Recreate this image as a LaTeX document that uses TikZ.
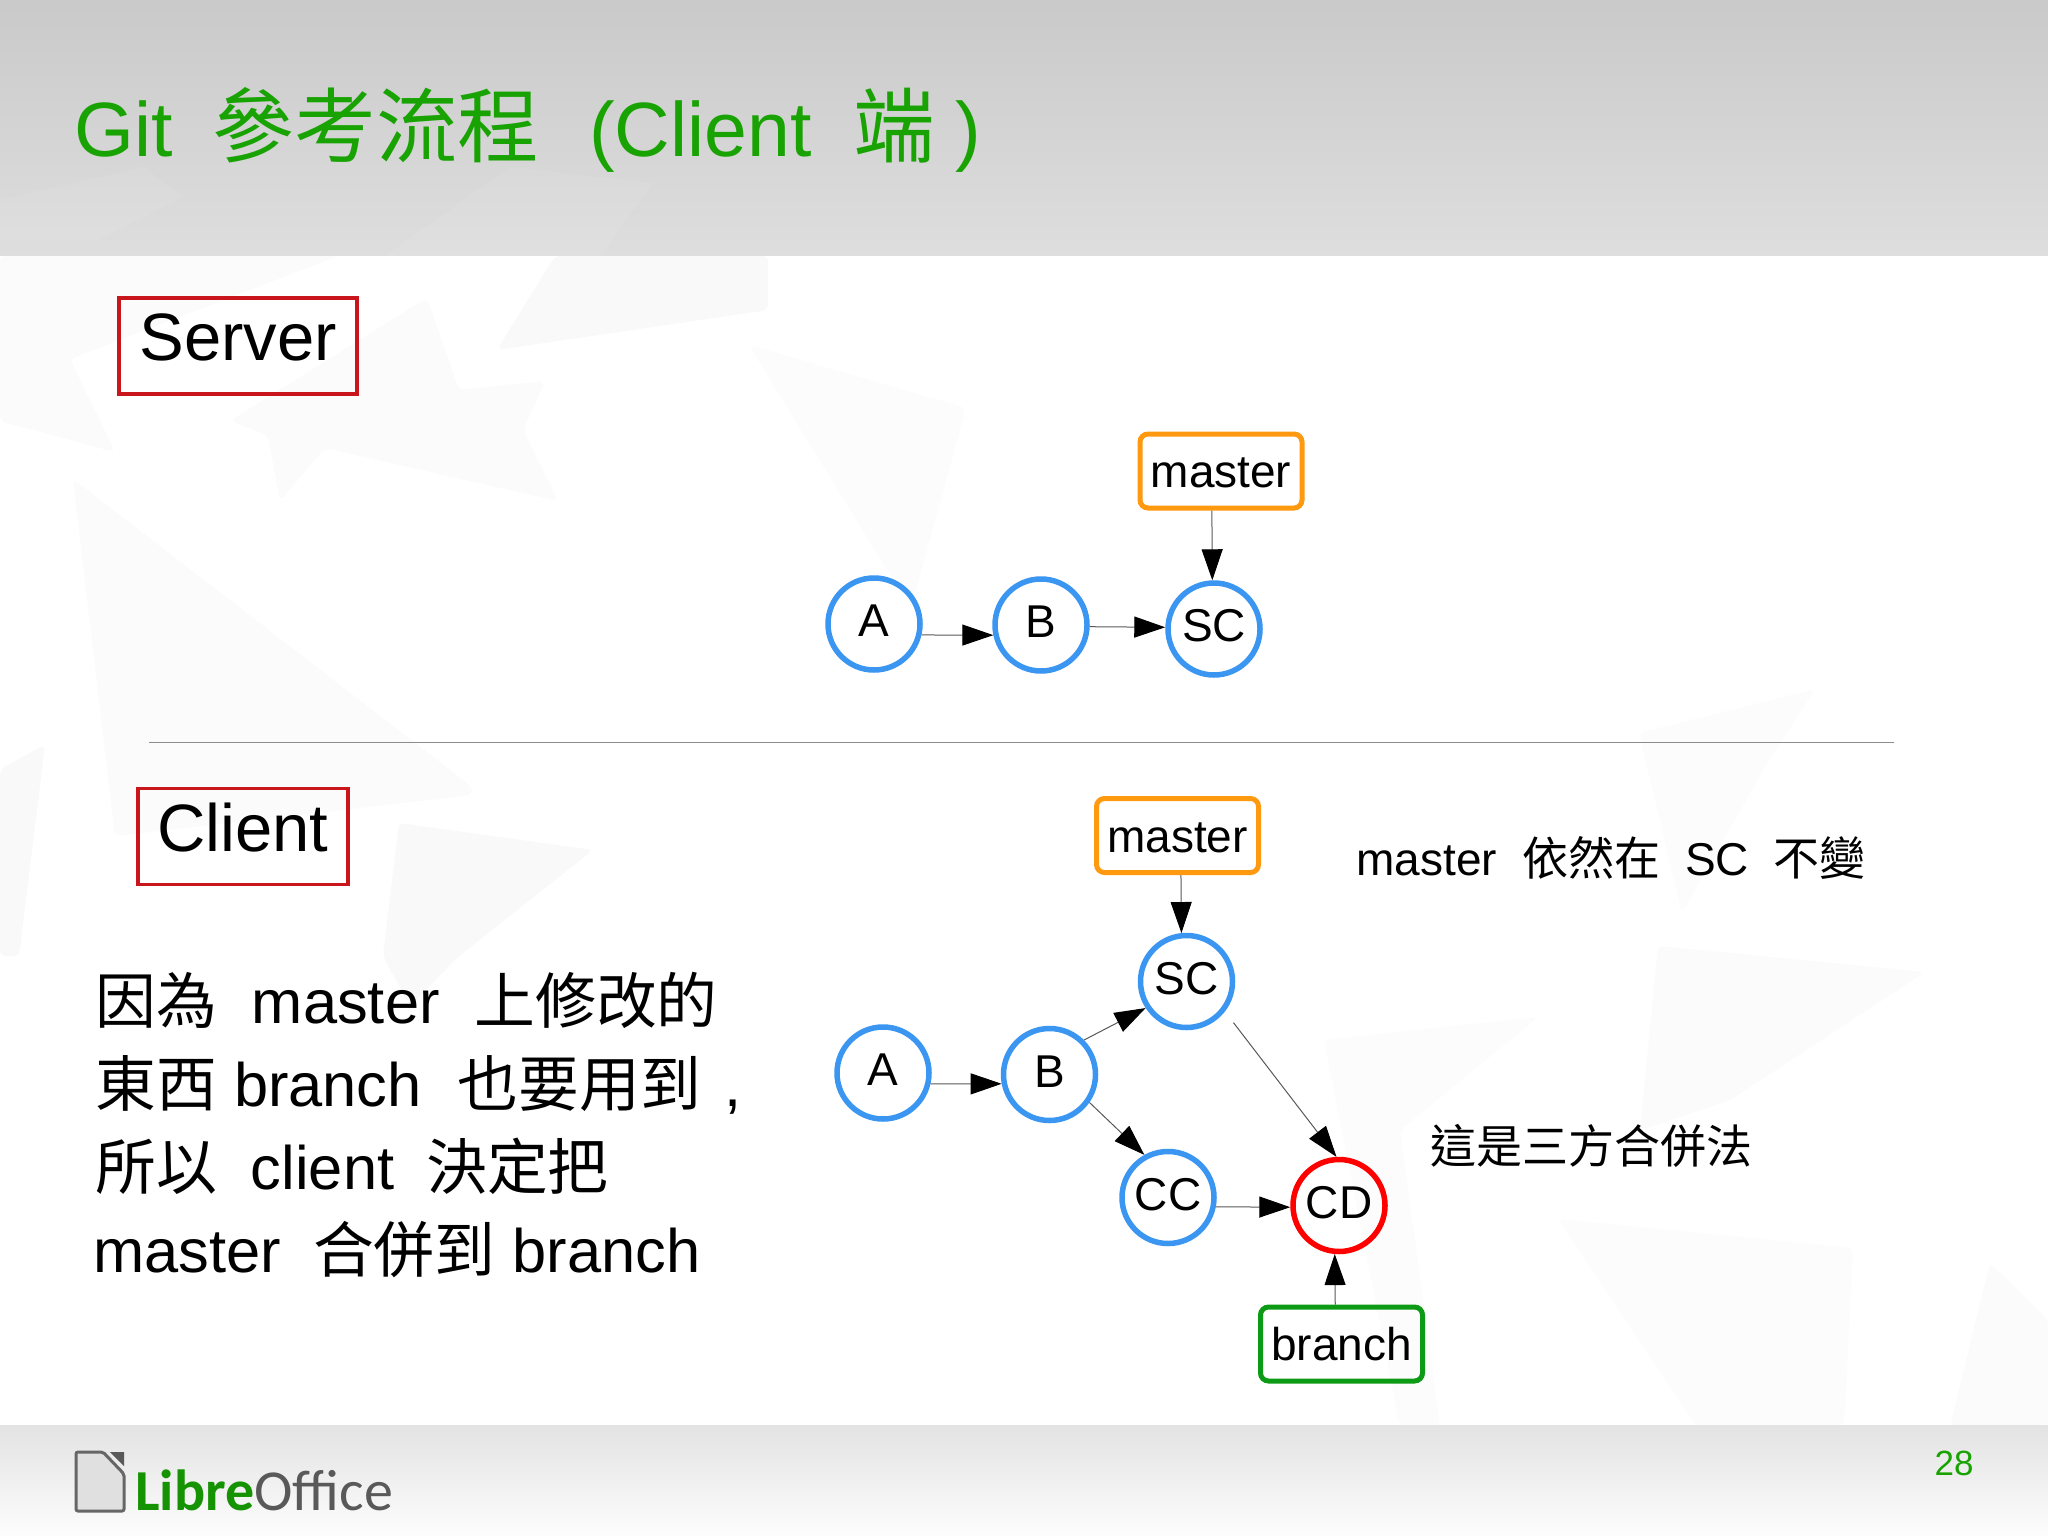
\documentclass[tikz,border=0pt]{standalone}
\usepackage{fontspec}
\usepackage{xcolor}
\usepackage{tikz}
\usetikzlibrary{arrows.meta}
\setmainfont{Liberation Sans}
\newfontfamily\cjk{Noto Sans CJK TC}
\newfontfamily\cjktitle[Scale=1.06]{Noto Sans CJK TC}
\newfontfamily\cjkbody[Scale=0.99]{Noto Sans CJK TC}
\newfontfamily\logofont{Carlito}
\definecolor{titlegreen}{HTML}{18A303}
\definecolor{commitblue}{HTML}{3B96F2}
\definecolor{masterorange}{HTML}{FF9A10}
\definecolor{branchgreen}{HTML}{0D9A14}
\definecolor{boxred}{HTML}{C9161C}

\begin{document}
\begin{tikzpicture}[x=0.5pt, y=-0.5pt,
  commit/.style={draw=commitblue, circle, line width=2.75pt, minimum size=46pt,
    inner sep=0pt, font=\fontsize{23}{27}\selectfont, text height=12.5pt, text depth=0pt},
  ref/.style={draw=masterorange, rounded corners=4pt, line width=2.5pt, inner sep=0pt,
    minimum width=81pt, minimum height=37pt, font=\fontsize{23}{27}\selectfont,
    text height=16.5pt, text depth=0pt},
  sidebox/.style={draw=boxred, line width=1.75pt, inner sep=0pt, minimum height=48pt,
    font=\fontsize{33.5}{40}\selectfont, text height=14.5pt, text depth=0pt},
  link/.style={draw=black!65, line width=0.5pt,
    -{Triangle[length=15.5pt, width=10.5pt, color=black]}},
  note/.style={anchor=base west, inner sep=0pt, font=\fontsize{23}{28}\selectfont},
  facet/.style={fill=black!2.5, rounded corners=3pt},
  lightfacet/.style={fill=black!1.6, rounded corners=3pt},
  headfacet/.style={fill=white, fill opacity=0.07}
]
\useasboundingbox (0,0) rectangle (2048,1535);

% Slide background
\fill[white] (0,0) rectangle (2048,1535);
\fill[lightfacet] (0,256) -- (338,256) -- (70,359) -- (115,452) -- (0,421) -- cycle;
\fill[lightfacet] (73,479) -- (472,787) -- (472,795) -- (115,836) -- cycle;
\fill[facet] (555,256) -- (768,256) -- (768,310) -- (497,350) -- cycle;
\fill[lightfacet] (268,435) -- (280,501) -- (325,448) -- (558,501) -- (523,430) -- (545,381) -- (459,390) -- (427,298) -- (230,421) -- cycle;
\fill[facet] (399,823) -- (593,850) -- (459,956) -- (410,1006) -- (383,956) -- cycle;
\fill[facet] (45,745) -- (19,956) -- (0,956) -- (0,769) -- cycle;
\fill[black!1.2, rounded corners=3pt] (749,345) -- (966,408) -- (912,604) -- (886,568) -- cycle;
\fill[black!1, rounded corners=3pt] (1639,733) -- (1815,689) -- (1767,763) -- (1682,913) -- cycle;
\fill[black!1.5, rounded corners=3pt] (1658,946) -- (1925,972) -- (1730,1100) -- (1640,1130) -- cycle;
\fill[black!1.2, rounded corners=3pt] (1324,1040) -- (1538,1017) -- (1400,1130) -- (1440,1426) -- (1400,1426) -- cycle;
\fill[black!1.2, rounded corners=3pt] (1558,1219) -- (1853,1248) -- (1844,1426) -- (1696,1426) -- cycle;
\fill[lightfacet] (1990,1263) -- (2048,1320) -- (2048,1426) -- (1950,1426) -- cycle;
\shade[top color=black!21, bottom color=black!13] (0,0) rectangle (2048,256);
\fill[headfacet] (385,256) -- (510,167) -- (653,183) -- (600,256) -- cycle;
\fill[headfacet] (0,200) -- (144,167) -- (183,197) -- (98,240) -- (0,240) -- cycle;
\shade[top color=black!11, bottom color=black!1] (0,1425) rectangle (2048,1535);

% Title
\node[anchor=base west, inner sep=0pt, text=titlegreen, font=\fontsize{38.5}{46}\selectfont]
  (title) at (74,157)
  {Git\hspace{20pt}{\cjktitle 參考流程}\hspace{25pt}(Client\hspace{21pt}{\cjktitle 端}\hspace{10pt})};

% Side labels
\node[sidebox, minimum width=119pt] (server) at (238,346) {Server};
\node[sidebox, minimum width=105pt, text height=15pt] (client) at (243,836.5) {Client};
\draw[black!45, line width=0.5pt] (149,742.5) coordinate (ruleleft) -- (1894,742.5) coordinate (ruleright);

% Server graph
\node[commit] (sa) at (874,624) {A};
\node[commit] (sb) at (1041,625) {B};
\node[commit] (ssc) at (1214,629) {SC};
\node[ref] (smaster) at (1221,471) {master};
\draw[link] (sa.-13) -- (sb.192);
\draw[link] (sb.-2) -- (ssc.178);
\draw[link] (smaster.-103) -- (ssc.92);

% Client graph
\node[commit] (ca) at (883,1073) {A};
\node[commit] (cb) at (1049.5,1074.5) {B};
\node[commit] (csc) at (1186.5,981.5) {SC};
\node[commit] (ccc) at (1168,1197.5) {CC};
\node[commit, draw=red] (ccd) at (1339,1205.5) {CD};
\node[ref] (cmaster) at (1177.5,835.5) {master};
\node[ref, draw=branchgreen] (cbranch) at (1341.5,1344) {branch};
\draw[link] (ca.-13) -- (cb.191);
\draw[link] (cb.45) -- (csc.213);
\draw[link] (cb.-35) -- (ccc.119);
\draw[link, shorten <=7pt] (csc.-38) -- (ccd.93);
\draw[link] (ccc.-11) -- (ccd.182);
\draw[link] (cbranch.99) -- (ccd.-95);
\draw[link] (cmaster.-85) -- (csc.96.5);

% Notes
\node[note] (notemaster) at (1356,875) {master\hspace{12.5pt}{\cjk 依然在}\hspace{12.5pt}SC\hspace{12.5pt}{\cjk 不變}};
\node[note] (notemerge) at (1430,1163) {\cjk 這是三方合併法};
\node[anchor=north west, inner sep=0pt, align=left, font=\fontsize{30.7}{41.5}\selectfont] (reason) at (95,972)
  {{\cjkbody 因為}\hspace{17.5pt}master\hspace{17.5pt}{\cjkbody 上修改的}\\
   {\cjkbody 東西} branch\hspace{18pt}{\cjkbody 也要用到}\hspace{12pt},\\
   {\cjkbody 所以}\hspace{17pt}client\hspace{16pt}{\cjkbody 決定把}\\
   \hspace{-1pt}master\hspace{16pt}{\cjkbody 合併到} branch};

% Footer
\fill[black!12] (76,1452) -- (103,1452) -- (124,1474) -- (124,1511) -- (76,1511) -- cycle;
\draw[black!60, line width=1.5pt, rounded corners=1pt] (76,1452) -- (103,1452) -- (124,1474) -- (124,1511) -- (76,1511) -- cycle;
\fill[black!65] (110,1452) -- (124,1452) -- (124,1466) -- cycle;
\node[anchor=base west, inner sep=0pt, font=\fontsize{29}{34}\logofont] (logo) at (135,1510)
  {\textcolor{titlegreen!90!black}{\textbf{Libre}}\textcolor{black!65}{Office}};
\node[anchor=base east, inner sep=0pt, text=titlegreen, font=\fontsize{17.5}{21}\selectfont] (pagenum) at (1974,1475) {28};

\end{tikzpicture}
\end{document}
